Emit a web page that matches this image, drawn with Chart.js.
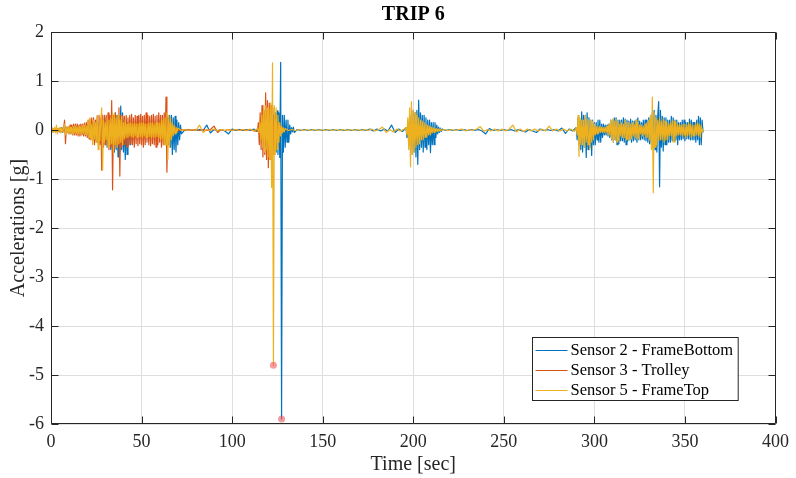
<!DOCTYPE html>
<html><head><meta charset="utf-8">
<script src="https://cdn.jsdelivr.net/npm/chart.js@4"></script>
<style>html,body{margin:0;padding:0;background:#fff;overflow:hidden}#wrap{width:796px;height:478px;position:relative}</style>
</head><body><div id="wrap"><canvas id="c" width="796" height="478"></canvas></div>
<script>
const chartTitle = 'TRIP 6';
const xAxisLabel = 'Time [sec]';
const yAxisLabel = 'Accelerations [g]';
const seriesLabels = ['Sensor 2 - FrameBottom', 'Sensor 3 - Trolley', 'Sensor 5 - FrameTop'];
const seriesColors = ['#0072BD', '#D95319', '#EDB120'];
const xTickValues = [0, 50, 100, 150, 200, 250, 300, 350, 400];
const yTickValues = [-6, -5, -4, -3, -2, -1, 0, 1, 2];

const sensor2Segments = [
  [0, 0.5, [
    0.03,-0.03,0.02,-0.04,0.04,-0.03,0.04,-0.04,0.03,-0.04,
    0.04,-0.04,0.05,-0.05,0.06,0.08,-0.06,0.05,-0.05,0.06,
    -0.05,0.05,-0.06,0.05,-0.05,0.06,-0.06,0.05,-0.06,0.06,
    -0.06,0.07,-0.06,0.06,-0.07,0.07,-0.08,0.07,-0.08,0.08,
    -0.08,0.1,-0.12,0.1,-0.15,0.12,-0.15,0.15,-0.2,0.15,
    -0.2,0.2,-0.25,0.15,-0.22,0.2,-0.3,0.2,-0.25,0.2,
    -0.3,0.25,-0.35,0.2,-0.3,0.25,-0.4,0.3,-0.35,0.3,
    -0.45,0.35,-0.4,0.3,-0.55,0.3,-0.45,0.49,-0.4,0.35,
    -0.45,0.22,-0.6,0.2,-0.5,0.15,-0.3,0.15,-0.3,0.12,
    -0.2,0.1,-0.15,0.12,-0.12,0.1,-0.15,0.12,-0.12,0.1,
    -0.12,0.1,-0.12,0.1,-0.1,0.12,-0.12,0.1,-0.12,0.1,
    -0.12,0.1,-0.12,0.12,-0.1,0.1,-0.12,0.1,-0.12,0.1,
    -0.12,0.12,-0.15,0.15,-0.2,0.2,-0.25,0.2,-0.3,0.25,
    -0.3,0.3,-0.35,0.3,-0.5,0.25,-0.4,0.28,-0.45,0.2,
    -0.3,0.15,-0.2,0.1,-0.08]],
  [74, 2, [0.01,-0.01,0.01,-0.01,0.01,-0.01,0.1,-0.06,0.01,-0.01,0.01,-0.02,-0.08,0.02,-0.01,0.01,-0.01,0.01,-0.01,0.02,-0.03]],
  [114.8, 0.5, [
    0.05,-0.1,0.15,-0.15,0.2,-0.25,0.2,-0.3,0.25,-0.3,
    0.3,-0.35,0.25,-0.35,0.3,-0.3,0.3,-0.4,0.35,-0.45,
    0.39,-0.5,0.35,-0.56,1.38,-5.9,0.3,-0.45,0.3,-0.35,
    0.2,-0.25,0.2,-0.25,0.1,-0.08,0.05,-0.04,0.06,-0.05]],
  [136, 2, [0.01,-0.01,0.01,-0.01,0.01,-0.01,0.01,-0.01,0.01,-0.01,0.01,-0.01,0.01,-0.01,0.01,-0.01,0.01,-0.01,0.01,-0.01,
    0.02,-0.02,0.02,-0.02,0.02,-0.02,0.1,-0.05,0.02,-0.03]],
  [196, 0.5, [
    0.05,-0.15,0.15,-0.3,0.3,-0.4,0.3,-0.5,0.4,-0.45,
    0.35,-0.55,0.4,-0.7,0.61,-0.4,0.35,-0.35,0.3,-0.45,
    0.3,-0.35,0.25,-0.4,0.2,-0.3,0.2,-0.46,0.15,-0.3,
    0.15,-0.3,0.15,-0.15,0.1,-0.08,0.06,-0.05,0.04,-0.03,
    0.02]],
  [218, 2, [-0.01,0.01,-0.01,0.01,-0.01,0.01,-0.01,0.01,-0.01,0.01,-0.02,-0.08,0.03,-0.01,0.01,-0.01,0.01,-0.01,0.01,-0.02,
    0.01,-0.02,-0.04,0.01,-0.02,-0.05,0.02,-0.01,0.01,-0.01,0.01,-0.02,0.04,-0.07,0.02,-0.02]],
  [290, 0.5, [
    0.05,-0.2,0.25,-0.3,0.2,-0.4,0.37,-0.45,0.3,-0.35,
    0.3,-0.56,0.35,-0.4,0.25,-0.35,0.2,-0.52,0.2,-0.3,
    0.15,-0.3,0.15,-0.2,0.2,-0.25,0.2,-0.25,0.12,-0.15,
    0.12,-0.1,0.1,-0.1,0.1,-0.12,0.12,-0.15,0.2,-0.2,
    0.2,-0.25,0.25,-0.2,0.25,-0.3,0.2,-0.28,0.2,-0.22,
    0.2,-0.22,0.25,-0.25,0.22,-0.3,0.2,-0.22,0.18,-0.2,
    0.22,-0.25,0.18,-0.22,0.18,-0.2,0.2,-0.25,0.25,-0.2,
    0.18,-0.2,0.15,-0.18,0.2,-0.2,0.2,-0.22,0.2,-0.25,
    0.25,-0.28,0.3,-0.3,0.35,-0.35,0.4,-0.4,0.3,-0.45,
    0.3,0.58,-1.16,0.4,-0.35,0.28,-0.43,0.25,-0.3,0.25,
    -0.3,0.2,-0.25,0.2,-0.25,0.28,-0.22,0.25,-0.22,0.2,
    -0.2,0.2,-0.3,0.15,-0.2,0.15,-0.2,0.2,-0.18,0.2,
    -0.22,0.15,-0.18,0.15,-0.18,0.22,-0.2,0.2,-0.2,0.15,
    -0.2,0.15,-0.25,0.2,-0.2,0.28,-0.3,0.25,-0.3,0.2,
    -0.05]]
];

const sensor3Segments = [
  [0, 0.5, [
    0.04,-0.04,0.03,-0.03,0.03,-0.04,0.04,-0.03,0.03,-0.04,
    0.04,-0.03,0.04,-0.04,0.05,0.2,-0.28,0.06,-0.05,0.06,
    -0.08,0.1,-0.08,0.1,-0.1,0.12,-0.1,0.12,-0.1,0.12,
    -0.12,0.1,-0.12,0.12,-0.1,0.12,-0.12,0.14,-0.12,0.15,
    -0.15,0.2,-0.18,0.22,-0.2,0.25,-0.22,0.25,-0.3,0.2,
    -0.25,0.28,-0.25,0.3,-0.3,0.25,-0.82,0.3,-0.35,0.3,
    -0.3,0.3,-0.3,0.35,-0.4,0.3,-0.35,0.6,-1.22,0.3,
    -0.4,0.35,-0.3,0.3,-0.3,0.45,-0.94,0.3,-0.35,0.3,
    -0.3,0.28,-0.3,0.3,-0.35,0.25,-0.3,0.3,-0.28,0.32,
    -0.3,0.25,-0.35,0.3,-0.28,0.28,-0.32,0.3,-0.28,0.32,
    -0.3,0.28,-0.35,0.3,-0.3,0.35,-0.25,0.3,-0.3,0.28,
    -0.32,0.3,-0.28,0.32,-0.3,0.28,-0.35,0.3,-0.3,0.35,
    -0.25,0.3,-0.35,0.3,-0.3,0.35,-0.3,0.67,-0.86,0.25,
    -0.2,0.15,-0.1,0.08,-0.06,0.05,-0.04,0.03,-0.03,0.02,
    -0.02]],
  [72, 2, [0.01,-0.01,0.01,-0.01,0.01,-0.01,0.01,-0.01,0.01,0.08,-0.05,0.01,-0.01,0.01,-0.01,0.01,-0.01,0.01,-0.01,0.01,-0.02]],
  [114, 0.5, [
    -0.03,0.15,-0.3,0.35,-0.4,0.5,-0.55,0.4,-0.5,0.76,
    -0.6,0.6,-0.77,0.55,-0.6,0.5,-0.5,0.45,-0.5,0.35,
    -0.4,0.25,-0.25,0.15,-0.1,0.08,-0.05,0.03,-0.02,0.01,
    0]]
];

const sensor5Segments = [
  [0, 0.5, [
    0.06,-0.05,0.03,-0.04,0.05,-0.06,0.1,-0.08,0.04,-0.03,
    0.05,-0.06,0.03,-0.04,0.05,0.12,-0.1,0.05,-0.06,0.07,
    -0.08,0.06,-0.07,0.05,-0.08,0.07,-0.06,0.08,-0.07,0.06,
    -0.09,0.08,-0.07,0.06,-0.08,0.09,-0.07,0.1,-0.09,0.08,
    -0.1,0.2,-0.15,0.25,-0.2,0.12,-0.3,0.2,-0.18,0.15,
    -0.25,0.3,-0.4,0.18,-0.22,0.2,0.45,-0.82,0.2,-0.25,
    0.15,-0.2,0.25,-0.35,0.2,-0.3,0.25,-0.28,0.35,-0.46,
    0.3,-0.3,0.25,-0.35,0.3,-0.28,0.2,-0.25,0.28,-0.3,
    0.15,-0.18,0.2,-0.15,0.12,-0.15,0.14,-0.12,0.15,-0.14,
    0.12,-0.15,0.14,-0.12,0.13,-0.15,0.12,-0.14,0.15,-0.13,
    0.14,-0.16,0.15,-0.12,0.13,-0.15,0.12,-0.14,0.15,-0.13,
    0.14,-0.16,0.15,-0.14,0.12,-0.15,0.14,-0.13,0.15,-0.16,
    0.14,-0.2,0.2,-0.18,0.22,-0.3,0.25,-0.3,0.35,-0.6,
    0.3,-0.35,0.25,-0.2,0.15,-0.12,0.1,-0.08,0.06,-0.05,
    0.04]],
  [72, 2, [-0.01,0.01,-0.01,0.01,-0.01,0.1,-0.05,0.01,-0.01,0.02,-0.01,0.01,-0.01,0.01,-0.01,0.01,-0.01,0.01,-0.01,0.02,-0.02,0.03]],
  [114.8, 0.5, [
    -0.05,0.15,-0.2,0.3,-0.35,0.4,-0.45,0.5,-0.4,0.45,
    -0.55,0.45,-0.6,0.55,-1.17,1.37,-4.8,0.5,-0.5,0.45,
    -0.4,0.3,-0.25,0.15,-0.12,0.08,-0.06,0.05,-0.04,0.03]],
  [131, 2, [-0.01,0.01,-0.01,0.01,-0.01,0.01,-0.01,0.01,-0.01,0.01,-0.01,0.01,-0.01,0.01,-0.01,0.01,-0.01,0.01,-0.01,0.01,
    -0.01,0.01,-0.01,0.02,-0.02,0.01,0.06,-0.05,0.01,-0.04,0.02,-0.02,0.02]],
  [196, 0.5, [
    0.05,-0.1,0.25,-0.4,0.45,-0.75,0.58,-0.5,0.4,-0.45,
    0.35,-0.35,0.3,-0.3,0.25,-0.28,0.2,-0.2,0.18,-0.2,
    0.15,-0.15,0.12,-0.14,0.1,-0.1,0.08,-0.1,0.06,-0.06,
    0.05,-0.05,0.04,-0.03,0.03,-0.03,0.02,-0.02,0.02,-0.01]],
  [217, 2, [0.01,-0.01,0.01,-0.01,0.01,0.02,-0.02,0.01,-0.01,0.02,0.07,-0.03,0.01,-0.02,0.02,-0.02,0.02,-0.02,0.02,0.1,
    -0.04,0.02,-0.03,0.02,-0.02,0.02,-0.02,0.02,-0.02,0.08,-0.02,0.02,-0.02,0.02,-0.02,0.02,-0.03]],
  [290, 0.5, [
    0.05,-0.1,0.3,-0.54,0.25,-0.3,0.2,-0.3,0.2,-0.35,
    0.3,-0.25,0.22,-0.3,0.2,-0.4,0.2,-0.25,0.18,-0.2,
    0.12,-0.1,0.08,-0.08,0.06,-0.06,0.08,-0.05,0.06,-0.05,
    0.05,-0.05,0.06,-0.05,0.08,-0.1,0.12,-0.1,0.2,-0.18,
    0.22,-0.25,0.18,-0.2,0.22,-0.25,0.18,-0.2,0.12,-0.12,
    0.15,-0.15,0.12,-0.15,0.2,-0.2,0.15,-0.18,0.15,-0.2,
    0.12,-0.18,0.15,-0.12,0.12,-0.15,0.2,-0.18,0.15,-0.18,
    0.1,-0.08,0.1,-0.12,0.08,-0.1,0.12,-0.15,0.15,-0.15,
    0.2,-0.2,0.3,-0.4,0.67,-1.28,0.35,-0.35,0.25,-0.3,
    0.2,-0.22,0.25,-0.2,0.18,-0.2,0.22,-0.25,0.18,-0.2,
    0.15,-0.2,0.12,-0.12,0.15,-0.12,0.2,-0.25,0.18,-0.25,
    0.15,-0.12,0.1,-0.1,0.12,-0.1,0.1,-0.12,0.12,-0.1,
    0.12,-0.15,0.1,-0.12,0.15,-0.1,0.12,-0.15,0.1,-0.12,
    0.1,-0.12,0.12,-0.1,0.15,-0.12,0.12,-0.15,0.1,-0.05,
    0.02]]
];

// minimum-value markers [time (s), acceleration (g)]
const peakMarkers = [[122.8, -4.8], [127.3, -5.9]];

const segmentsToXY = segs => segs.flatMap(([t0, dt, vals]) =>
  vals.map((v, i) => ({ x: Math.round((t0 + i * dt) * 1000) / 1000, y: v })));
const pairsToXY = arr => arr.map(p => ({ x: p[0], y: p[1] }));
const SERIF = "'Liberation Serif', 'Times New Roman', serif";
const AXIS_COLOR = '#262626';

const matlabAxes = {
  id: 'matlabAxes',
  afterDraw(chart) {
    const ctx = chart.ctx;
    const a = chart.chartArea;
    const xs = chart.scales.x, ys = chart.scales.y;
    const L = Math.round(a.left) + 0.5, R = Math.round(a.right) - 0.5;
    const T = Math.round(a.top) + 0.5, B = Math.round(a.bottom) - 0.5;
    ctx.save();
    ctx.strokeStyle = AXIS_COLOR;
    ctx.lineWidth = 1;
    ctx.beginPath();
    ctx.rect(L, T, R - L, B - T);
    const tl = 7;
    xTickValues.forEach(v => {
      const px = Math.round(xs.getPixelForValue(v)) + 0.5;
      ctx.moveTo(px, B); ctx.lineTo(px, B - tl);
      ctx.moveTo(px, T); ctx.lineTo(px, T + tl);
    });
    yTickValues.forEach(v => {
      const py = Math.round(ys.getPixelForValue(v)) + 0.5;
      ctx.moveTo(L, py); ctx.lineTo(L + tl, py);
      ctx.moveTo(R, py); ctx.lineTo(R - tl, py);
    });
    ctx.stroke();

    const cx = (a.left + a.right) / 2;
    ctx.fillStyle = '#000';
    ctx.textAlign = 'center';
    ctx.textBaseline = 'middle';
    ctx.font = 'bold 20px ' + SERIF;
    ctx.fillText(chartTitle, cx, 15);
    ctx.fillStyle = AXIS_COLOR;
    ctx.font = '20px ' + SERIF;
    ctx.fillText(xAxisLabel, cx, 465);
    ctx.save();
    ctx.translate(19, (a.top + a.bottom) / 2);
    ctx.rotate(-Math.PI / 2);
    ctx.fillText(yAxisLabel, 0, 0);
    ctx.restore();

    ctx.font = '16.5px ' + SERIF;
    let maxW = 0;
    seriesLabels.forEach(s => { maxW = Math.max(maxW, ctx.measureText(s).width); });
    const bx = 532.5, by = 337.5, rowH = 20;
    const bw = 38 + maxW + 5, bh = rowH * seriesLabels.length + 3;
    ctx.fillStyle = '#fff';
    ctx.fillRect(bx, by, bw, bh);
    ctx.strokeStyle = AXIS_COLOR;
    ctx.lineWidth = 1;
    ctx.strokeRect(bx, by, bw, bh);
    ctx.textAlign = 'left';
    ctx.textBaseline = 'middle';
    seriesLabels.forEach((s, i) => {
      const yy = by + 12.5 + i * rowH;
      ctx.strokeStyle = seriesColors[i];
      ctx.beginPath();
      ctx.moveTo(bx + 3, Math.round(yy) + 0.5);
      ctx.lineTo(bx + 35, Math.round(yy) + 0.5);
      ctx.stroke();
      ctx.fillStyle = '#000';
      ctx.fillText(s, bx + 38, yy + 1);
    });
    ctx.restore();
  }
};

const lineDs = (i, segs, order) => ({
  label: seriesLabels[i],
  data: segmentsToXY(segs),
  borderColor: seriesColors[i],
  backgroundColor: seriesColors[i],
  borderWidth: 1.2,
  borderJoinStyle: 'round',
  pointRadius: 0,
  tension: 0,
  fill: false,
  order: order
});

new Chart(document.getElementById('c'), {
  type: 'line',
  data: {
    datasets: [
      lineDs(0, sensor2Segments, 3),
      lineDs(1, sensor3Segments, 2),
      lineDs(2, sensor5Segments, 1),
      {
        label: 'Minimum',
        data: pairsToXY(peakMarkers),
        showLine: false,
        pointRadius: 3.5,
        pointBackgroundColor: 'rgba(238,90,95,0.6)',
        pointBorderWidth: 0,
        borderColor: 'rgba(0,0,0,0)',
        order: 0
      }
    ]
  },
  options: {
    responsive: false,
    animation: false,
    devicePixelRatio: 1,
    parsing: false,
    layout: { padding: { left: 0, right: 16, top: 32, bottom: 0 } },
    plugins: { legend: { display: false }, tooltip: { enabled: false }, title: { display: false } },
    scales: {
      x: {
        type: 'linear', min: 0, max: 400,
        afterBuildTicks: s => { s.ticks = xTickValues.map(v => ({ value: v })); },
        afterFit: s => { s.height = 54; },
        grid: { color: '#dedede', drawTicks: false, lineWidth: 1 },
        border: { display: false },
        ticks: { autoSkip: false, maxRotation: 0, padding: 7, color: AXIS_COLOR, font: { family: SERIF, size: 18 } }
      },
      y: {
        type: 'linear', min: -6, max: 2,
        afterBuildTicks: s => { s.ticks = yTickValues.map(v => ({ value: v })); },
        afterFit: s => { s.width = 51; },
        grid: { color: '#dedede', drawTicks: false, lineWidth: 1 },
        border: { display: false },
        ticks: { autoSkip: false, padding: 7, color: AXIS_COLOR, font: { family: SERIF, size: 18 } }
      }
    }
  },
  plugins: [matlabAxes]
});
</script>
</body></html>
